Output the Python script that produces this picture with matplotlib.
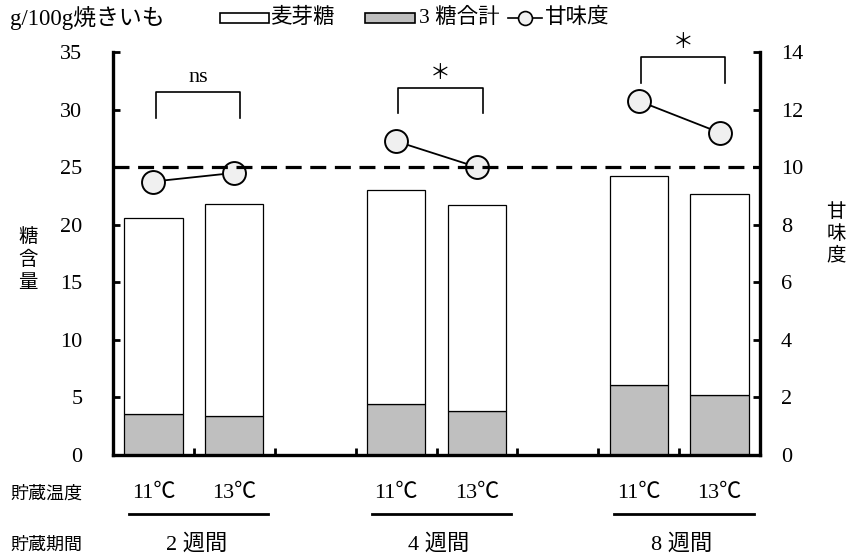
import matplotlib
matplotlib.use("Agg")
import matplotlib.pyplot as plt
from matplotlib.patches import Rectangle
from matplotlib.lines import Line2D
import matplotlib.transforms as mtransforms

plt.rcParams['font.family'] = ['Liberation Serif', 'Noto Sans CJK JP']

# data: 貯蔵期間 x 貯蔵温度
periods = ['2週間', '4週間', '8週間']
temps = ['11℃', '13℃']
sugar3 = [3.6, 3.4, 4.4, 3.8, 6.1, 5.2]          # 3糖合計 (g/100g)
maltose = [17.0, 18.4, 18.6, 17.9, 18.1, 17.5]   # 麦芽糖 (g/100g)
sweetness = [9.5, 9.8, 10.9, 10.0, 12.3, 11.2]   # 甘味度
signif = ['ns', '*', '*']
sweet_ref = 10

pos = [0, 1, 3, 4, 6, 7]
gray = '#bfbfbf'
W, H = 850, 556

fig = plt.figure(figsize=(8.5, 5.56), dpi=100)
ax = fig.add_axes([113 / W, 1 - 455 / H, 647 / W, 403 / H])

ax.bar(pos, sugar3, width=0.72, color=gray, edgecolor='black', linewidth=0.9)
ax.bar(pos, maltose, bottom=sugar3, width=0.72, color='white',
       edgecolor='black', linewidth=0.9)
ax.set_xlim(-0.5, 7.5)
ax.set_ylim(0, 35)
ax.set_yticks(range(0, 36, 5))
ax.set_xticks([0.5, 1.5, 2.5, 3.5, 4.5, 5.5, 6.5])
ax.set_xticklabels([])
ax.tick_params(axis='y', direction='in', length=5, width=2, pad=22, labelsize=16)
ax.tick_params(axis='x', direction='in', length=5, width=2)
for s in ['top', 'right']:
    ax.spines[s].set_visible(False)
for s in ['left', 'bottom']:
    ax.spines[s].set_linewidth(2.4)

ax2 = ax.twinx()
ax2.set_ylim(0, 14)
ax2.set_yticks(range(0, 15, 2))
ax2.tick_params(axis='y', direction='in', length=5, width=2, pad=15, labelsize=16)
for s in ['top', 'left', 'bottom']:
    ax2.spines[s].set_visible(False)
ax2.spines['right'].set_linewidth(2.4)

for g in range(3):
    i = 2 * g
    ax2.plot(pos[i:i + 2], sweetness[i:i + 2], '-o', color='black', lw=1.3,
             ms=16.5, mfc='#f0f0f0', mec='black', mew=1.4, zorder=3)
ax2.axhline(sweet_ref, color='black', lw=2.3, dashes=(5, 2.7), zorder=4)

# significance brackets
br_y = [(29.3, 31.5), (29.7, 31.9), (32.3, 34.6)]
for g in range(3):
    x0 = pos[2 * g] + 0.03
    x1 = pos[2 * g + 1] + 0.07
    lo, hi = br_y[g]
    ax.plot([x0, x0, x1, x1], [lo, hi, hi, lo], color='black', lw=1.2,
            clip_on=False, solid_joinstyle='round')
    if signif[g] == 'ns':
        ax.text((x0 + x1) / 2, hi + 0.5, 'ns', ha='center', va='bottom',
                fontsize=16)
    else:
        ax.text((x0 + x1) / 2, hi + 0.3, '＊', ha='center', va='bottom',
                fontsize=15)

# axis titles
fig.text(10 / W, 1 - 18 / H, 'g/100g焼きいも', ha='left', va='center', fontsize=16.5)
for k, ch in enumerate('糖含量'):
    fig.text(28 / W, 1 - (237 + 23 * k) / H, ch, ha='center', va='center',
             fontsize=14)
for k, ch in enumerate('甘味度'):
    fig.text(836 / W, 1 - (212 + 22 * k) / H, ch, ha='center', va='center',
             fontsize=14)

# legend, laid out by hand in figure pixels
ly = 1 - 18 / H
rh = 9 / H
fig.patches.append(Rectangle((220 / W, ly - rh / 2), 49 / W, rh, transform=fig.transFigure,
                             facecolor='white', edgecolor='black', linewidth=1.2))
fig.patches.append(Rectangle((365 / W, ly - rh / 2), 50 / W, rh, transform=fig.transFigure,
                             facecolor=gray, edgecolor='black', linewidth=1.2))
fig.lines.append(Line2D([508 / W, 542 / W], [ly, ly], transform=fig.transFigure,
                        color='black', lw=1.2))
fig.lines.append(Line2D([525 / W], [ly], transform=fig.transFigure, marker='o',
                        ms=10, mfc='#f0f0f0', mec='black', mew=1.2))
fig.text(271 / W, ly, '麦芽糖', ha='left', va='center', fontsize=15.5)
fig.text(419 / W, ly, '3 糖合計', ha='left', va='center', fontsize=15.5)
fig.text(545 / W, ly, '甘味度', ha='left', va='center', fontsize=15.5)

# category labels under the axis
trans = mtransforms.blended_transform_factory(ax.transData, ax.transAxes)
fig.text(10 / W, 1 - 494 / H, '貯蔵温度', ha='left', va='center', fontsize=13)
fig.text(10 / W, 1 - 545 / H, '貯蔵期間', ha='left', va='center', fontsize=13)
for g in range(3):
    for k in range(2):
        ax.text(pos[2 * g + k], -0.095, temps[k], transform=trans,
                ha='center', va='center', fontsize=16)
    c = pos[2 * g] + 0.56
    ax.plot([c - 0.86, c + 0.86], [-0.146, -0.146], transform=trans,
            color='black', lw=2, clip_on=False)
    ax.text(c - 0.03, -0.222, periods[g][0] + ' ' + periods[g][1:], transform=trans,
            ha='center', va='center', fontsize=16)

fig.savefig('out.png', dpi=100)
